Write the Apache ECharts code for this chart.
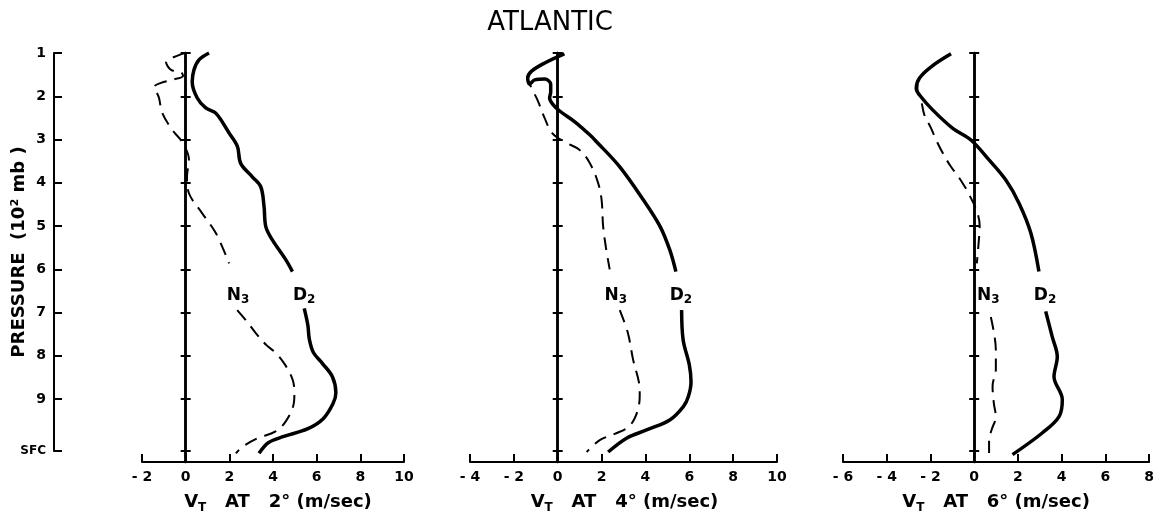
<!DOCTYPE html>
<html>
<head>
<meta charset="utf-8">
<script src="https://cdn.jsdelivr.net/npm/echarts@6/dist/echarts.min.js"></script>
<style>
html,body{margin:0;padding:0;background:#fff;}
#chart{width:1157px;height:520px;}
</style>
</head>
<body>
<div id="chart"></div>
<script>
// ---------------- DATA ----------------
const chartTitle = 'ATLANTIC';
const pressureAxisName = 'PRESSURE  (10² mb )';
const pressureTicks = [1, 2, 3, 4, 5, 6, 7, 8, 9, 10.2];
const pressureTickLabels = ['1', '2', '3', '4', '5', '6', '7', '8', '9', 'SFC'];
const panelLatitudes = ['2°', '4°', '6°'];
const xRanges = [[-2, 10], [-4, 10], [-6, 8]];

// Panel 2° : [V_T (m/s), pressure (10^2 mb)]
const d2Upper2 = [[1.07,1.0],[0.61,1.16],[0.38,1.39],[0.3,1.67],[0.53,2.04],[0.92,2.27],[1.38,2.39],[1.99,2.85],[2.37,3.16],[2.52,3.55],[3.05,3.86],[3.44,4.09],[3.59,4.55],[3.67,5.01],[3.97,5.32],[4.59,5.78],[4.89,6.05]];
const d2Lower2 = [[5.43,6.9],[5.6,7.3],[5.66,7.6],[5.85,7.92],[6.26,8.17],[6.72,8.48],[6.88,8.85],[6.75,9.1],[6.3,9.45],[5.6,9.68],[4.5,9.86],[3.8,10.0],[3.36,10.25]];
const n3Upper2 = [[-0.03,1.0],[-0.31,1.05],[-0.9,1.21],[-0.67,1.39],[-0.22,1.44],[-0.12,1.53],[-0.63,1.62],[-1.13,1.69],[-1.45,1.79],[-1.32,1.92],[-1.22,2.04],[-1.07,2.39],[-0.61,2.78],[-0.17,3.05],[0.15,3.47],[0.06,3.86],[0.15,4.24],[0.75,4.7],[1.38,5.16],[1.99,5.86]];
const n3Lower2 = [[2.36,6.94],[2.8,7.2],[3.21,7.47],[3.7,7.75],[4.13,7.93],[4.55,8.2],[4.9,8.55],[4.98,8.85],[4.95,9.1],[4.6,9.5],[4.1,9.75],[3.3,9.9],[2.6,10.1],[2.3,10.25]];

// Panel 4°
const d2Upper4 = [[0.3,1.02],[-0.59,1.23],[-1.19,1.42],[-1.37,1.58],[-1.28,1.72],[-1.05,1.62],[-0.59,1.6],[-0.32,1.72],[-0.32,1.9],[-0.37,2.04],[-0.23,2.18],[0.09,2.34],[0.78,2.59],[1.46,2.89],[1.77,3.05],[2.83,3.63],[3.9,4.39],[4.66,5.0],[5.11,5.55],[5.39,6.05]];
const d2Lower4 = [[5.65,6.94],[5.72,7.63],[6.0,8.2],[6.08,8.6],[5.95,8.95],[5.73,9.17],[5.11,9.48],[4.05,9.71],[3.14,9.9],[2.3,10.22]];
const n3Upper4 = [[0.3,1.02],[-0.59,1.23],[-1.19,1.42],[-1.37,1.58],[-1.2,1.8],[-0.91,2.1],[-0.6,2.5],[-0.25,2.85],[0.3,3.05],[1.0,3.24],[1.46,3.54],[1.84,4.0],[2.0,4.39],[2.07,5.0],[2.2,5.5],[2.37,6.0]];
const n3Lower4 = [[2.83,6.94],[3.2,7.47],[3.44,8.09],[3.7,8.6],[3.74,8.9],[3.7,9.15],[3.5,9.45],[3.2,9.65],[2.6,9.8],[1.9,9.95],[1.32,10.22]];

// Panel 6°
const d2Upper6 = [[-1.06,1.02],[-1.97,1.32],[-2.5,1.58],[-2.65,1.82],[-2.5,1.97],[-1.89,2.32],[-0.98,2.74],[-0.15,3.01],[0.68,3.47],[1.44,3.93],[2.05,4.47],[2.59,5.16],[2.96,6.05]];
const d2Lower6 = [[3.27,6.97],[3.57,7.56],[3.8,8.02],[3.65,8.48],[4.03,9.01],[3.88,9.4],[3.11,9.78],[1.75,10.28]];
const n3Upper6 = [[-1.2,1.05],[-1.97,1.32],[-2.5,1.58],[-2.6,1.85],[-2.43,2.09],[-2.28,2.43],[-1.98,2.73],[-1.75,3.0],[-1.45,3.3],[-1.1,3.6],[-0.6,3.95],[-0.2,4.3],[0.15,4.7],[0.25,5.0],[0.2,5.4],[0.12,5.86]];
const n3Lower6 = [[0.76,7.1],[0.99,7.86],[0.99,8.3],[0.84,8.7],[0.9,9.1],[0.99,9.4],[0.8,9.7],[0.68,9.94],[0.68,10.24]];

// Curve label anchors [V_T, pressure]
const n3LabelPos = [[2.4,6.6],[2.65,6.6],[0.64,6.6]];
const d2LabelPos = [[5.43,6.6],[5.62,6.6],[3.24,6.6]];

// ---------------- CHART ----------------
const FONT = 'DejaVu Sans';
const PMIN = 1, PMAX = 10.45;
const panels = [
  {d2: [d2Upper2, d2Lower2], n3: [n3Upper2, n3Lower2]},
  {d2: [d2Upper4, d2Lower4], n3: [n3Upper4, n3Lower4]},
  {d2: [d2Upper6, d2Lower6], n3: [n3Upper6, n3Lower6]}
];
const grid = [
  {left: 142, top: 53, width: 262, height: 409},
  {left: 470, top: 53, width: 307, height: 409},
  {left: 843, top: 53, width: 307, height: 409},
  {left: 54, top: 53, width: 20, height: 398}
];
const nameShift = [10, 2, 0];

const xAxis = [];
const yAxis = [];
const series = [];

panels.forEach((pn, i) => {
  xAxis.push({
    gridIndex: i, type: 'value', min: xRanges[i][0], max: xRanges[i][1], interval: 2,
    axisLine: {onZero: false, lineStyle: {color: '#000', width: 2}},
    axisTick: {inside: true, length: 8, lineStyle: {color: '#000', width: 2}},
    axisLabel: {color: '#000', fontFamily: FONT, fontWeight: 'bold', fontSize: 14, margin: 8,
      formatter: v => v < 0 ? '- ' + (-v) : String(v)},
    splitLine: {show: false},
    name: '{v|V}{t|T}{a|   AT   ' + panelLatitudes[i] + ' (m/sec)}',
    nameLocation: 'middle', nameGap: 28, nameMoveOverlap: false,
    nameTextStyle: {
      padding: [0, 0, 0, nameShift[i]],
      rich: {
        v: {fontFamily: FONT, fontWeight: 'bold', fontSize: 18, color: '#000', lineHeight: 24},
        t: {fontFamily: FONT, fontWeight: 'bold', fontSize: 12, color: '#000', lineHeight: 12, verticalAlign: 'bottom'},
        a: {fontFamily: FONT, fontWeight: 'bold', fontSize: 18, color: '#000', lineHeight: 24}
      }
    }
  });
  ['left', 'right'].forEach(pos => {
    yAxis.push({
      gridIndex: i, type: 'value', inverse: true, min: PMIN, max: PMAX, position: pos,
      axisLine: {show: true, onZero: true, onZeroAxisIndex: i, lineStyle: {color: '#000', width: 2.5}},
      axisTick: {show: true, customValues: pressureTicks, length: 5, lineStyle: {color: '#000', width: 2}},
      axisLabel: {show: false},
      splitLine: {show: false}
    });
  });
  const yIdx = i * 2;
  const solid = {type: 'line', xAxisIndex: i, yAxisIndex: yIdx, smooth: 0.35, symbol: 'none',
    lineStyle: {color: '#000', width: 3.5}, z: 3};
  const dashed = {type: 'line', xAxisIndex: i, yAxisIndex: yIdx, smooth: 0.35, symbol: 'none',
    lineStyle: {color: '#000', width: 2, type: [13, 8]}, z: 3};
  pn.d2.forEach(seg => series.push(Object.assign({}, solid, {name: 'D2', data: seg})));
  pn.n3.forEach(seg => series.push(Object.assign({}, dashed, {name: 'N3', data: seg})));
  series.push({
    type: 'scatter', xAxisIndex: i, yAxisIndex: yIdx, symbolSize: 1,
    itemStyle: {color: 'rgba(0,0,0,0)', opacity: 1},
    data: [
      {value: n3LabelPos[i], name: 'N', sub: '3'},
      {value: d2LabelPos[i], name: 'D', sub: '2'}
    ],
    label: {
      show: true, position: 'inside', color: '#000', opacity: 1,
      formatter: p => '{m|' + p.name + '}{s|' + p.data.sub + '}',
      rich: {
        m: {fontFamily: FONT, fontWeight: 'bold', fontSize: 17, color: '#000', lineHeight: 22},
        s: {fontFamily: FONT, fontWeight: 'bold', fontSize: 12, color: '#000', lineHeight: 12, verticalAlign: 'bottom'}
      }
    },
    z: 5
  });
});

// Left pressure bracket axis
xAxis.push({gridIndex: 3, type: 'value', min: 0, max: 1, show: false});
yAxis.push({
  gridIndex: 3, type: 'value', inverse: true, min: 1, max: 10.2, position: 'left',
  axisLine: {show: true, onZero: false, lineStyle: {color: '#000', width: 2}},
  axisTick: {show: true, inside: true, length: 8, customValues: pressureTicks, lineStyle: {color: '#000', width: 2}},
  axisLabel: {
    show: true, customValues: pressureTicks, margin: 8, color: '#000',
    fontFamily: FONT, fontWeight: 'bold', fontSize: 14,
    formatter: v => {
      const k = pressureTicks.indexOf(v);
      const s = k >= 0 ? pressureTickLabels[k] : '';
      return s === 'SFC' ? '{s|SFC}' : s;
    },
    rich: {s: {fontFamily: FONT, fontWeight: 'bold', fontSize: 12, color: '#000'}}
  },
  splitLine: {show: false},
  name: pressureAxisName, nameLocation: 'middle', nameRotate: 90, nameGap: 26, nameMoveOverlap: false,
  nameTextStyle: {fontFamily: FONT, fontWeight: 'bold', fontSize: 18, color: '#000'}
});

const chart = echarts.init(document.getElementById('chart'), null, {renderer: 'canvas'});
chart.setOption({
  animation: false,
  backgroundColor: '#fff',
  title: {
    text: chartTitle, left: 550, top: 10, textAlign: 'center', padding: 0,
    textStyle: {fontFamily: FONT, fontWeight: 'normal', fontSize: 26, color: '#000'}
  },
  grid: grid,
  xAxis: xAxis,
  yAxis: yAxis,
  series: series
});
</script>
</body>
</html>
